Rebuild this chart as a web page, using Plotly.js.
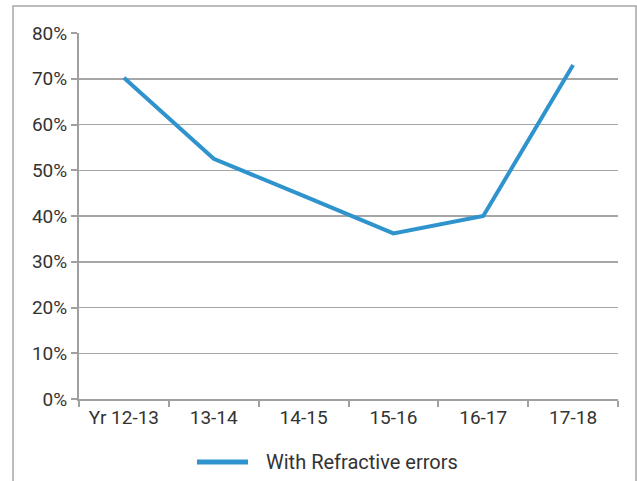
<!DOCTYPE html>
<html>
<head>
<meta charset="utf-8">
<script src="https://cdn.plot.ly/plotly-3.0.1.min.js"></script>
<style>html,body{margin:0;padding:0;background:#fff;}#chart{width:637px;height:481px;}</style>
</head>
<body>
<div id="chart"></div>
<script>
var categories = ["Yr 12-13", "13-14", "14-15", "15-16", "16-17", "17-18"];
var seriesName = "With Refractive errors";
var values = [0.702, 0.525, 0.444, 0.362, 0.40, 0.73];
var yTickVals = [0, 0.1, 0.2, 0.3, 0.4, 0.5, 0.6, 0.7, 0.8];
var lineColor = "#2f93cd";

var font = {family: "Roboto, sans-serif", size: 19, color: "#333333"};
var legendFont = {family: "Roboto, sans-serif", size: 20, color: "#333333"};

var trace = {
  x: categories,
  y: values,
  type: "scatter",
  mode: "lines",
  name: seriesName,
  showlegend: false,
  line: {color: lineColor, width: 4}
};

var layout = {
  width: 637,
  height: 481,
  margin: {l: 79, r: 19, t: 33, b: 82, autoexpand: false},
  paper_bgcolor: "#ffffff",
  plot_bgcolor: "#ffffff",
  font: font,
  showlegend: false,
  xaxis: {
    type: "category",
    range: [-0.5, 5.5],
    showgrid: false,
    showline: true,
    linecolor: "#a0a0a0",
    linewidth: 2,
    ticks: "outside",
    tickson: "boundaries",
    ticklen: 6,
    tickwidth: 2,
    tickcolor: "#a0a0a0",
    tickfont: font,
    fixedrange: true,
    zeroline: false,
    automargin: false
  },
  yaxis: {
    range: [0, 0.8],
    tickvals: yTickVals,
    tickformat: ".0%",
    showgrid: true,
    gridcolor: "#a6a6a6",
    gridwidth: 1.5,
    showline: true,
    linecolor: "#a0a0a0",
    linewidth: 2,
    ticks: "outside",
    ticklen: 6,
    tickwidth: 2,
    tickcolor: "#a0a0a0",
    tickfont: font,
    zeroline: false,
    fixedrange: true,
    automargin: false
  },
  shapes: [{
    type: "rect",
    xref: "paper", yref: "paper",
    x0: -0.1224, x1: 1.0334, y0: -0.4, y1: 1.0738,
    line: {color: "#a6a6a6", width: 1.5},
    layer: "below"
  }, {
    type: "line",
    xref: "paper", yref: "paper",
    x0: 0.2189, x1: 0.3135, y0: -0.1721, y1: -0.1721,
    line: {color: lineColor, width: 5}
  }],
  annotations: [{
    text: seriesName,
    xref: "paper", yref: "paper",
    x: 0.343, y: -0.1721,
    xanchor: "left", yanchor: "middle",
    showarrow: false,
    font: legendFont
  }]
};

Plotly.newPlot("chart", [trace], layout, {displayModeBar: false, staticPlot: true});
</script>
</body>
</html>
